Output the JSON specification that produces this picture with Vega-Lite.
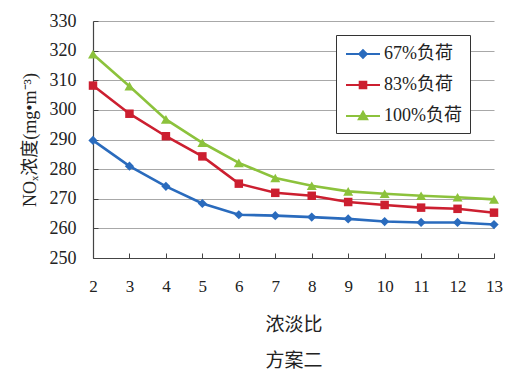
{
  "$schema": "https://vega.github.io/schema/vega-lite/v6.json",
  "autosize": {"type": "none"},
  "padding": {"left": 93, "top": 21, "right": 27, "bottom": 127},
  "width": 401,
  "height": 237,
  "background": "white",
  "config": {
    "view": {"stroke": null},
    "font": "Liberation Serif, Noto Sans CJK SC",
    "axis": {
      "labelFont": "Liberation Serif, Noto Sans CJK SC",
      "titleFont": "Liberation Serif, Noto Sans CJK SC",
      "labelColor": "#222",
      "titleColor": "#222",
      "domainColor": "#444",
      "tickColor": "#444",
      "gridColor": "#a8a8a8",
      "gridWidth": 1,
      "domainWidth": 1.2
    }
  },
  "data": {
    "values": [
      {"ratio": 2, "series": "67%负荷", "nox": 289.7},
      {"ratio": 3, "series": "67%负荷", "nox": 281.0},
      {"ratio": 4, "series": "67%负荷", "nox": 274.2},
      {"ratio": 5, "series": "67%负荷", "nox": 268.4},
      {"ratio": 6, "series": "67%负荷", "nox": 264.6},
      {"ratio": 7, "series": "67%负荷", "nox": 264.3},
      {"ratio": 8, "series": "67%负荷", "nox": 263.8},
      {"ratio": 9, "series": "67%负荷", "nox": 263.2},
      {"ratio": 10, "series": "67%负荷", "nox": 262.3},
      {"ratio": 11, "series": "67%负荷", "nox": 262.0},
      {"ratio": 12, "series": "67%负荷", "nox": 262.0},
      {"ratio": 13, "series": "67%负荷", "nox": 261.3},
      {"ratio": 2, "series": "83%负荷", "nox": 308.2},
      {"ratio": 3, "series": "83%负荷", "nox": 298.7},
      {"ratio": 4, "series": "83%负荷", "nox": 291.1},
      {"ratio": 5, "series": "83%负荷", "nox": 284.3},
      {"ratio": 6, "series": "83%负荷", "nox": 275.1},
      {"ratio": 7, "series": "83%负荷", "nox": 272.0},
      {"ratio": 8, "series": "83%负荷", "nox": 271.0},
      {"ratio": 9, "series": "83%负荷", "nox": 268.9},
      {"ratio": 10, "series": "83%负荷", "nox": 267.9},
      {"ratio": 11, "series": "83%负荷", "nox": 267.0},
      {"ratio": 12, "series": "83%负荷", "nox": 266.6},
      {"ratio": 13, "series": "83%负荷", "nox": 265.3},
      {"ratio": 2, "series": "100%负荷", "nox": 318.8},
      {"ratio": 3, "series": "100%负荷", "nox": 308.0},
      {"ratio": 4, "series": "100%负荷", "nox": 296.8},
      {"ratio": 5, "series": "100%负荷", "nox": 288.9},
      {"ratio": 6, "series": "100%负荷", "nox": 282.1},
      {"ratio": 7, "series": "100%负荷", "nox": 277.0},
      {"ratio": 8, "series": "100%负荷", "nox": 274.4},
      {"ratio": 9, "series": "100%负荷", "nox": 272.5},
      {"ratio": 10, "series": "100%负荷", "nox": 271.7},
      {"ratio": 11, "series": "100%负荷", "nox": 271.0},
      {"ratio": 12, "series": "100%负荷", "nox": 270.5},
      {"ratio": 13, "series": "100%负荷", "nox": 269.8}
    ]
  },
  "encoding": {
    "x": {
      "field": "ratio",
      "type": "quantitative",
      "scale": {"domain": [2, 13], "nice": false, "zero": false},
      "axis": {
        "values": [2, 3, 4, 5, 6, 7, 8, 9, 10, 11, 12, 13],
        "grid": false,
        "tickSize": -5,
        "labelPadding": 25,
        "labelFontSize": 17,
        "labelFlush": false,
        "labelOverlap": false,
        "title": ["浓淡比", "方案二"],
        "titleFontSize": 19,
        "titleFontWeight": "normal",
        "titleLineHeight": 36,
        "titlePadding": 21
      }
    },
    "y": {
      "field": "nox",
      "type": "quantitative",
      "scale": {"domain": [250, 330], "nice": false, "zero": false},
      "axis": {
        "values": [250, 260, 270, 280, 290, 300, 310, 320, 330],
        "grid": true,
        "tickSize": -5,
        "labelPadding": 22,
        "labelFontSize": 18,
        "labelFlush": false,
        "labelOverlap": false,
        "title": "NOₓ浓度(mg•m⁻³)",
        "titleFontSize": 18,
        "titleFontWeight": "normal",
        "titlePadding": 10
      }
    }
  },
  "layer": [
    {
      "mark": {"type": "line", "strokeWidth": 2.6},
      "encoding": {
        "color": {
          "field": "series",
          "type": "nominal",
          "scale": {
            "domain": ["67%负荷", "83%负荷", "100%负荷"],
            "range": ["#2a6bbd", "#cc1f30", "#8cc23c"]
          },
          "legend": {
            "title": null,
            "orient": "none",
            "legendX": 243,
            "legendY": 14,
            "direction": "vertical",
            "strokeColor": "#333",
            "fillColor": "white",
            "padding": 8,
            "symbolSize": 400,
            "symbolOffset": 8,
            "labelOffset": 10,
            "rowPadding": 11,
            "labelFontSize": 18,
            "labelFont": "Liberation Serif, Noto Sans CJK SC",
            "labelColor": "#222",
            "encode": {
              "symbols": {
                "update": {
                  "shape": {"signal": "datum.value === '67%负荷' ? 'M-1.7,0H1.7M-0.38,0L0,-0.38L0.38,0L0,0.38Z' : datum.value === '83%负荷' ? 'M-1.7,0H1.7M-0.33,-0.33H0.33V0.33H-0.33Z' : 'M-1.7,0H1.7M-0.42,0.32L0,-0.42L0.42,0.32Z'"},
                  "fill": {"scale": "color", "field": "value"},
                  "stroke": {"scale": "color", "field": "value"},
                  "strokeWidth": {"value": 2},
                  "opacity": {"value": 1}
                }
              }
            }
          }
        }
      }
    },
    {
      "transform": [{"filter": "datum.series === '67%负荷'"}],
      "mark": {"type": "point", "shape": "diamond", "filled": true, "size": 85, "opacity": 1, "color": "#2a6bbd"}
    },
    {
      "transform": [{"filter": "datum.series === '83%负荷'"}],
      "mark": {"type": "point", "shape": "square", "filled": true, "size": 72, "opacity": 1, "color": "#cc1f30"}
    },
    {
      "transform": [{"filter": "datum.series === '100%负荷'"}],
      "mark": {"type": "point", "shape": "triangle-up", "filled": true, "size": 100, "opacity": 1, "color": "#8cc23c"}
    }
  ]
}
